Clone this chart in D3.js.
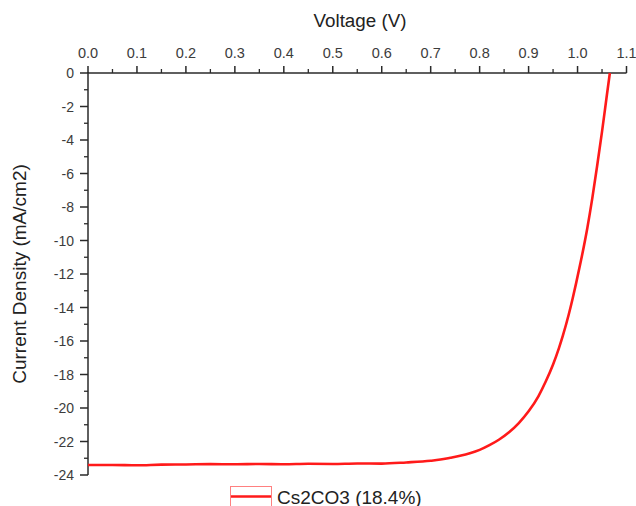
<!DOCTYPE html>
<html><head><meta charset="utf-8">
<script src="https://cdn.jsdelivr.net/npm/d3@7"></script>
<style>body{margin:0;background:#fff;} text{font-family:"Liberation Sans",Arial,sans-serif;}</style>
</head><body><svg id="c" width="636" height="506"></svg>
<script>
const voltage = [0.00,0.05,0.10,0.15,0.20,0.25,0.30,0.35,0.40,0.45,0.50,0.55,0.60,0.65,0.70,0.72,0.74,0.76,0.78,0.80,0.82,0.84,0.86,0.88,0.90,0.92,0.935,0.95,0.962,0.97,0.982,0.99,0.997,1.007,1.02,1.03,1.04,1.05,1.06,1.066];
const current = [-23.40,-23.40,-23.42,-23.38,-23.37,-23.35,-23.36,-23.34,-23.36,-23.33,-23.34,-23.31,-23.32,-23.25,-23.15,-23.08,-22.97,-22.85,-22.70,-22.50,-22.22,-21.88,-21.45,-20.90,-20.20,-19.30,-18.42,-17.40,-16.42,-15.68,-14.42,-13.46,-12.56,-11.20,-9.25,-7.50,-5.55,-3.50,-1.30,0.00];
const xTicks = [0.0,0.1,0.2,0.3,0.4,0.5,0.6,0.7,0.8,0.9,1.0,1.1];
const yTicks = [0,-2,-4,-6,-8,-10,-12,-14,-16,-18,-20,-22,-24];
const seriesName = "Cs2CO3 (18.4%)";

const svg = d3.select("#c");
const x = d3.scaleLinear().domain([0,1.1]).range([88,626.5]);
const y = d3.scaleLinear().domain([0,-24]).range([73,475]);

const xMinor = d3.range(0.05,1.1,0.1);
const yMinor = d3.range(-1,-24,-2);

const axCol = "#2a2a2a", lblCol = "#3c3c3c";
const gx = svg.append("g").attr("transform","translate(0,73)");
gx.append("line").attr("x1",x(0)).attr("x2",x(1.1)).attr("stroke",axCol).attr("stroke-width",1.5);
gx.selectAll(".mj").data(xTicks).join("line").attr("x1",d=>x(d)).attr("x2",d=>x(d)).attr("y1",0).attr("y2",-7).attr("stroke",axCol).attr("stroke-width",1.5);
gx.selectAll(".mn").data(xMinor).join("line").attr("x1",d=>x(d)).attr("x2",d=>x(d)).attr("y1",0).attr("y2",-4).attr("stroke",axCol).attr("stroke-width",1.3);
gx.selectAll("text").data(xTicks).join("text").attr("x",d=>x(d)).attr("y",-15.5).attr("text-anchor","middle").attr("font-size",14.5).attr("fill",lblCol).text(d=>d.toFixed(1));

const gy = svg.append("g").attr("transform","translate(88,0)");
gy.append("line").attr("y1",y(0)-1).attr("y2",y(-24)).attr("stroke",axCol).attr("stroke-width",1.5);
gy.selectAll(".mj").data(yTicks).join("line").attr("y1",d=>y(d)).attr("y2",d=>y(d)).attr("x1",0).attr("x2",-8).attr("stroke",axCol).attr("stroke-width",1.5);
gy.selectAll(".mn").data(yMinor).join("line").attr("y1",d=>y(d)).attr("y2",d=>y(d)).attr("x1",0).attr("x2",-4).attr("stroke",axCol).attr("stroke-width",1.3);
gy.selectAll("text").data(yTicks).join("text").attr("x",-14).attr("y",d=>y(d)+5).attr("text-anchor","end").attr("font-size",14).attr("fill",lblCol).text(d=>d);

svg.append("text").attr("x",360).attr("y",27).attr("text-anchor","middle").attr("font-size",18.8).attr("fill","#222").text("Voltage (V)");
svg.append("text").attr("transform","translate(26,274) rotate(-90)").attr("text-anchor","middle").attr("font-size",19).attr("fill","#222").text("Current Density (mA/cm2)");

const pts = voltage.map((v,i)=>[v,current[i]]);
svg.append("path").datum(pts).attr("fill","none").attr("stroke","#ff1a1a").attr("stroke-width",2.6)
  .attr("d",d3.line().x(d=>x(d[0])).y(d=>y(d[1])).curve(d3.curveMonotoneX));

const lg = svg.append("g");
lg.append("rect").attr("x",230.5).attr("y",486.5).attr("width",41).attr("height",22).attr("fill","none").attr("stroke","#ff8080").attr("stroke-width",1);
lg.append("line").attr("x1",231).attr("x2",271).attr("y1",496.5).attr("y2",496.5).attr("stroke","#ff1a1a").attr("stroke-width",2.6);
lg.append("text").attr("x",277).attr("y",503.5).attr("font-size",19).attr("fill","#222").text(seriesName);
</script></body></html>
